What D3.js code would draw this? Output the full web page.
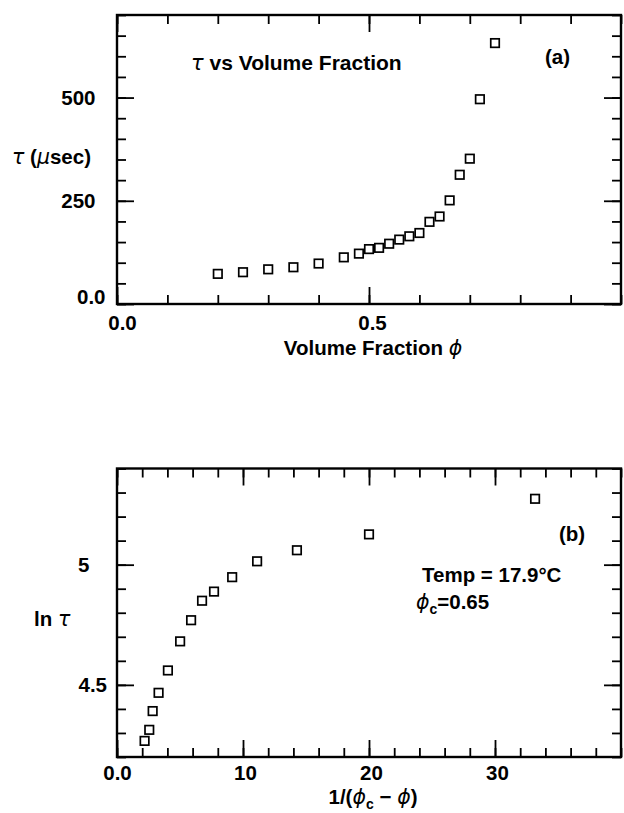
<!DOCTYPE html>
<html>
<head>
<meta charset="utf-8">
<script src="https://cdn.jsdelivr.net/npm/d3@7"></script>
<style>
  html, body { margin: 0; padding: 0; background: #fff; }
  svg { display: block; font-family: "Liberation Sans", Arial, Helvetica, sans-serif; font-weight: bold; }
</style>
</head>
<body>
<svg id="chart" width="624" height="813"></svg>
<script>
// ---- Panel (a): relaxation time tau (usec) against volume fraction phi ----
const phi = [0.20, 0.25, 0.30, 0.35, 0.40, 0.45, 0.48, 0.50, 0.52, 0.54,
             0.56, 0.58, 0.60, 0.62, 0.64, 0.66, 0.68, 0.70, 0.72, 0.75];
const tau = [73, 77, 84, 89, 98, 113, 122, 133, 136, 146,
             156, 164, 172, 199, 212, 251, 313, 352, 496, 632];
const phiTicks = [0, 0.5];
const phiTickLabels = ["0.0", "0.5"];
const tauTicks = [0, 250, 500];
const tauTickLabels = ["0.0", "250", "500"];

// ---- Panel (b): ln tau against 1/(phi_c - phi) ----
const invDelta = [2.19, 2.56, 2.83, 3.30, 4.04, 5.01, 5.88, 6.75, 7.70, 9.14,
                  11.12, 14.28, 20.0, 33.18];
const lnTau = [4.267, 4.313, 4.391, 4.467, 4.560, 4.681, 4.769, 4.850, 4.888, 4.948,
               5.014, 5.060, 5.126, 5.274];
const invTicks = [0, 10, 20, 30];
const invTickLabels = ["0.0", "10", "20", "30"];
const lnTauTicks = [4.5, 5];
const lnTauTickLabels = ["4.5", "5"];

const svg = d3.select("#chart");
const FONT = 20.5;
const MINOR = 9, MAJOR = 17;

function fmtFrom(ticks, labels) {
  return v => {
    const i = ticks.findIndex(t => Math.abs(t - v) < 1e-9);
    return i >= 0 ? labels[i] : "";
  };
}

function drawPanel(cfg) {
  const g = svg.append("g");
  const x = d3.scaleLinear().domain(cfg.xDomain).range([cfg.left, cfg.right]);
  const y = d3.scaleLinear().domain(cfg.yDomain).range([cfg.bottom, cfg.top]);

  const strip = sel => sel.call(s => s.select(".domain").remove())
    .attr("font-family", null).attr("font-size", null);

  // minor ticks on all four sides, pointing inward
  const minorSides = [
    [d3.axisBottom(x).tickValues(cfg.xMinor), `translate(0,${cfg.bottom})`],
    [d3.axisTop(x).tickValues(cfg.xMinor), `translate(0,${cfg.top})`],
    [d3.axisLeft(y).tickValues(cfg.yMinor), `translate(${cfg.left},0)`],
    [d3.axisRight(y).tickValues(cfg.yMinor), `translate(${cfg.right},0)`]
  ];
  minorSides.forEach(([ax, tr]) => {
    g.append("g").attr("transform", tr)
      .call(ax.tickSize(-MINOR).tickFormat(""))
      .call(strip);
  });

  // major ticks; labels on bottom and left only
  const xFmt = fmtFrom(cfg.xTicks, cfg.xLabels);
  const yFmt = fmtFrom(cfg.yTicks, cfg.yLabels);
  const majorSides = [
    [d3.axisBottom(x).tickValues(cfg.xTicks).tickFormat(xFmt).tickPadding(cfg.xPad), `translate(0,${cfg.bottom})`, "x"],
    [d3.axisTop(x).tickValues(cfg.xTicks).tickFormat(""), `translate(0,${cfg.top})`, null],
    [d3.axisLeft(y).tickValues(cfg.yTicks).tickFormat(yFmt).tickPadding(cfg.yPad), `translate(${cfg.left},0)`, "y"],
    [d3.axisRight(y).tickValues(cfg.yTicks).tickFormat(""), `translate(${cfg.right},0)`, null]
  ];
  majorSides.forEach(([ax, tr, kind]) => {
    const a = g.append("g").attr("transform", tr)
      .call(ax.tickSize(-MAJOR))
      .call(strip);
    if (kind) {
      a.selectAll(".tick text")
        .attr("font-size", FONT)
        .attr("fill", "#000")
        .attr("transform", d => {
          const off = (kind === "x" ? cfg.xLabelShift : cfg.yLabelShift)(d);
          return `translate(${off[0]},${off[1]})`;
        });
    }
  });
  g.selectAll(".tick line").attr("stroke", "#000").attr("stroke-width", 1.8);

  // frame
  g.append("rect")
    .attr("x", cfg.left).attr("y", cfg.top)
    .attr("width", cfg.right - cfg.left).attr("height", cfg.bottom - cfg.top)
    .attr("fill", "none").attr("stroke", "#000").attr("stroke-width", 2.4);

  // open square markers
  const S = 8.5;
  g.append("g").selectAll("rect")
    .data(cfg.xs.map((v, i) => [v, cfg.ys[i]]))
    .join("rect")
    .attr("x", d => x(d[0]) - S / 2)
    .attr("y", d => y(d[1]) - S / 2)
    .attr("width", S).attr("height", S)
    .attr("fill", "none").attr("stroke", "#000").attr("stroke-width", 1.7);

  return g;
}

drawPanel({
  left: 117, right: 621, top: 15, bottom: 304,
  xDomain: [0, 1.0], yDomain: [0, 700],
  xMinor: d3.range(0, 1.0001, 0.1), yMinor: d3.range(0, 700.1, 50),
  xTicks: phiTicks, xLabels: phiTickLabels,
  yTicks: tauTicks, yLabels: tauTickLabels,
  xPad: 11, yPad: 21.5,
  xLabelShift: d => d === 0 ? [5, 0] : [3, 0],
  yLabelShift: d => d === 0 ? [10, -7.5] : [0, 0],
  xs: phi, ys: tau
});

drawPanel({
  left: 117, right: 621, top: 468.5, bottom: 757,
  xDomain: [0, 40], yDomain: [4.2, 5.4],
  xMinor: d3.range(0, 40.001, 2), yMinor: d3.range(4.2, 5.4001, 0.1),
  xTicks: invTicks, xLabels: invTickLabels,
  yTicks: lnTauTicks, yLabels: lnTauTickLabels,
  xPad: 8, yPad: 10,
  xLabelShift: d => d === 0 ? [0, 0] : [2, 0],
  yLabelShift: d => d === 5 ? [-17.5, 0] : [0, 0],
  xs: invDelta, ys: lnTau
});

// ---- text annotations ----
function label(xp, yp, parts, anchor, size) {
  const fs = size || FONT;
  const t = svg.append("text")
    .attr("x", xp).attr("y", yp)
    .attr("font-size", fs)
    .attr("text-anchor", anchor || "start")
    .attr("fill", "#000")
    .style("white-space", "pre");
  parts.forEach(p => {
    const s = t.append("tspan").text(p.t);
    if (p.greek) {
      s.attr("font-family", "'DejaVu Sans', sans-serif")
       .attr("font-style", "italic")
       .attr("font-weight", "normal");
    }
    if (p.sub) s.attr("font-size", fs * 0.68).attr("dy", 5);
    if (p.after) s.attr("dy", -5);
  });
  return t;
}

// panel (a)
label(191, 70, [{t: "τ", greek: true}, {t: " vs Volume Fraction"}], "start", 21);
label(545, 64, [{t: "(a)"}]);
label(12, 164, [{t: "τ", greek: true}, {t: " ("}, {t: "μ", greek: true}, {t: "sec)"}]);
label(373, 355, [{t: "Volume Fraction "}, {t: "ϕ", greek: true}], "middle");

// panel (b)
label(559, 541, [{t: "(b)"}]);
label(422, 582, [{t: "Temp = 17.9°C"}]);
label(416, 609, [{t: "ϕ", greek: true}, {t: "c", sub: true}, {t: "=0.65", after: true}]);
label(34, 626, [{t: "ln "}, {t: "τ", greek: true}]);
label(373, 804, [{t: "1/("}, {t: "ϕ", greek: true}, {t: "c", sub: true}, {t: " − ", after: true}, {t: "ϕ", greek: true}, {t: ")"}], "middle");
</script>
</body>
</html>
